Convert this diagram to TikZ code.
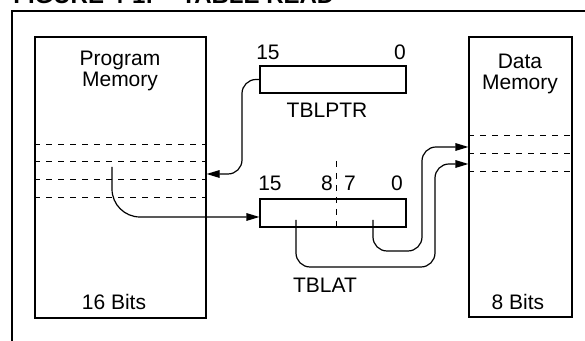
\documentclass[tikz,border=0pt]{standalone}
\usepackage{fontspec}
\setmainfont{Liberation Sans}
\usetikzlibrary{arrows.meta}
\tikzset{
  membox/.style={draw, line width=0.6pt, inner sep=0pt},
  rowline/.style={draw, line width=0.5pt, dash pattern=on 3pt off 3pt},
  flow/.style={->, line width=0.6pt, rounded corners=7pt},
  every node/.append style={font=\fontsize{10.5}{10.5}\selectfont}
}

\begin{document}
\begin{tikzpicture}[x=0.5pt, y=-0.5pt, >={Triangle[length=6.5pt,width=3.8pt]}]
    \path[use as bounding box] (0,0) rectangle (585,341);
    \clip (0,0) rectangle (585,341);

    % title, cut off at the top edge
    \node[anchor=base west, inner sep=0pt, font=\bfseries\fontsize{12}{12}\selectfont] (title) at (13,4) {FIGURE 4-1:\hspace{14pt}TABLE READ};
    \draw[line width=1.3pt] (12,360) |- (600,11);

    % memories
    \node[membox, minimum width=85.5pt, minimum height=140.5pt] (pm) at (120.5,177.5) {};
    \node[membox, minimum width=51.5pt, minimum height=140pt] (dm) at (520.5,177) {};
    \node[align=center] (pmname) at (120,71) {Program\\Memory};
    \node (pmbits) at (114,302) {16 Bits};
    \node[align=center] (dmname) at (520,74) {Data\\Memory};
    \node (dmbits) at (518,302) {8 Bits};
    \foreach \y in {145,162,180,198}
        \draw[rowline] (pm.west |- 0,\y) -- (pm.east |- 0,\y);
    \foreach \y in {136,154,172}
        \draw[rowline] (dm.west |- 0,\y) -- (dm.east |- 0,\y);

    % registers
    \node[membox, minimum width=73pt, minimum height=13.5pt] (tblptr) at (333,79.5) {};
    \node[membox, minimum width=73pt, minimum height=14pt] (tblat) at (333,213) {};
    \node (ptrname) at (327,110) {TBLPTR};
    \node (latname) at (325,285) {TBLAT};
    \node (ptrhi) at (268,52) {15};
    \node (ptrlo) at (400,52) {0};
    \node (lathi) at (270,183) {15};
    \node (latb8) at (327,183) {8};
    \node (latb7) at (350,183) {7};
    \node (latlo) at (397,183) {0};
    \draw[rowline] (336,161) -- (tblat.south -| 336,0);

    % transfers
    \coordinate (pmsrc) at (112,167);
    \coordinate (hisrc) at (296,220);
    \coordinate (losrc) at (373,220);
    \draw[flow] (tblptr.west) -| (242,174) -- (pm.east |- 0,174);
    \draw[flow, rounded corners=14pt] (pmsrc) |- (tblat.west |- 0,217);
    \draw[flow] (losrc) |- (422,251) -- (422,147) -- (dm.west |- 0,147);
    \draw[flow] (hisrc) |- (435,267) -- (435,164) -- (dm.west |- 0,164);
\end{tikzpicture}
\end{document}
